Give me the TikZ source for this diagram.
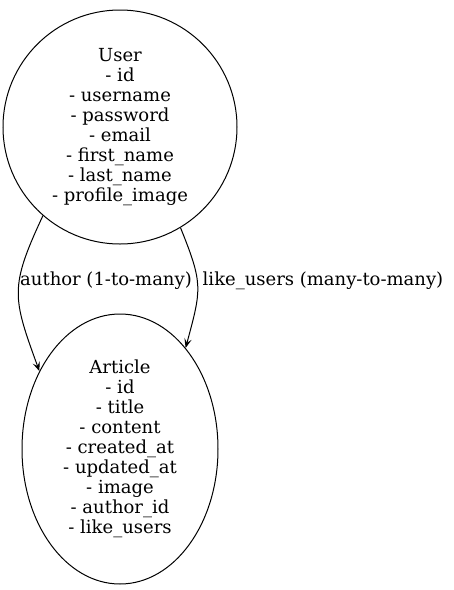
\documentclass[tikz,border=0pt]{standalone}
\usepackage{fontspec}
\setmainfont{DejaVu Serif}
\usetikzlibrary{arrows.meta,shapes.geometric}

\begin{document}
\begin{tikzpicture}[x=0.75pt,y=-0.75pt,line width=0.75pt,>={Stealth[length=7pt,width=5.5pt,inset=3pt]}]
            \tikzstyle{every node}=[font=\fontsize{13.5}{15}\selectfont,align=center,inner sep=0pt]
            \useasboundingbox (0,0) rectangle (454,590);
            \node[draw,circle,minimum size=175.5pt] (us) at (120,127)
                {User\\- id\\- username\\- password\\- email\\- first\_name\\- last\_name\\- profile\_image};
            \node[draw,ellipse,minimum width=147pt,minimum height=202.5pt] (ar) at (120,449)
                {Article\\- id\\- title\\- content\\- created\_at\\- updated\_at\\- image\\- author\_id\\- like\_users};
            \node (la) at (106,281) {author (1-to-many)};
            \node (lb) at (323,281) {like\_users (many-to-many)};

            \draw[->] (us.229) to[out=245,in=110,looseness=1.3] (ar.136);
            \draw[->] (us.301) to[out=292,in=75,looseness=1.3] (ar.57);
        \end{tikzpicture}
\end{document}
